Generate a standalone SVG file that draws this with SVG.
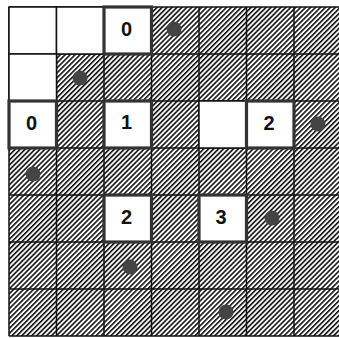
<svg xmlns="http://www.w3.org/2000/svg" width="339" height="338" viewBox="0 0 339 338">
<style>
.grid{stroke:#111;stroke-width:1.5;fill:none}
.white{fill:#fff;stroke:#111;stroke-width:1.5}
.box{fill:#fff;stroke:#333;stroke-width:3.2}
.num{font-family:"Liberation Sans",Arial,sans-serif;font-weight:bold;font-size:20px;fill:#111;text-anchor:middle}
.dot{fill:#444}
</style>
<defs>
<pattern id="hatch" patternUnits="userSpaceOnUse" width="3.5" height="10" patternTransform="rotate(45)">
<rect x="0" y="0" width="1.6" height="10" fill="#111"/>
</pattern>
</defs>
<rect width="339" height="338" fill="#fff"/>
<rect x="9" y="7" width="332.5" height="329" fill="url(#hatch)"/>
<g id="gridlines" class="grid">
<path d="M9 7V336M56.5 7V336M104 7V336M151.5 7V336M199 7V336M246.5 7V336M294 7V336"/>
<path d="M9 7H341M9 54H341M9 101H341M9 148H341M9 195H341M9 242H341M9 289H341M9 336H341"/>
</g>
<g id="white-cells">
<rect class="white" x="9" y="7" width="47.5" height="47"/>
<rect class="white" x="56.5" y="7" width="47.5" height="47"/>
<rect class="white" x="9" y="54" width="47.5" height="47"/>
<rect class="white" x="199" y="101" width="47.5" height="47"/>
</g>
<g id="box-r0c2"><rect class="box" x="104" y="7" width="47.5" height="47"/><text class="num" x="126.5" y="36">0</text></g>
<g id="box-r2c0"><rect class="box" x="9" y="101" width="47.5" height="47"/><text class="num" x="31.5" y="130">0</text></g>
<g id="box-r2c2"><rect class="box" x="104" y="101" width="47.5" height="47"/><text class="num" x="126.5" y="129">1</text></g>
<g id="box-r2c5"><rect class="box" x="246.5" y="101" width="47.5" height="47"/><text class="num" x="269" y="130">2</text></g>
<g id="box-r4c2"><rect class="box" x="104" y="195" width="47.5" height="47"/><text class="num" x="126.5" y="224">2</text></g>
<g id="box-r4c4"><rect class="box" x="199" y="195" width="47.5" height="47"/><text class="num" x="221" y="224">3</text></g>
<g id="dots">
<circle class="dot" cx="174" cy="29" r="7.5"/>
<circle class="dot" cx="80" cy="78" r="7.5"/>
<circle class="dot" cx="318" cy="124" r="7.5"/>
<circle class="dot" cx="33" cy="174" r="7.5"/>
<circle class="dot" cx="272" cy="218" r="7.5"/>
<circle class="dot" cx="130" cy="267" r="7.5"/>
<circle class="dot" cx="226" cy="312" r="7.5"/>
</g>
</svg>
